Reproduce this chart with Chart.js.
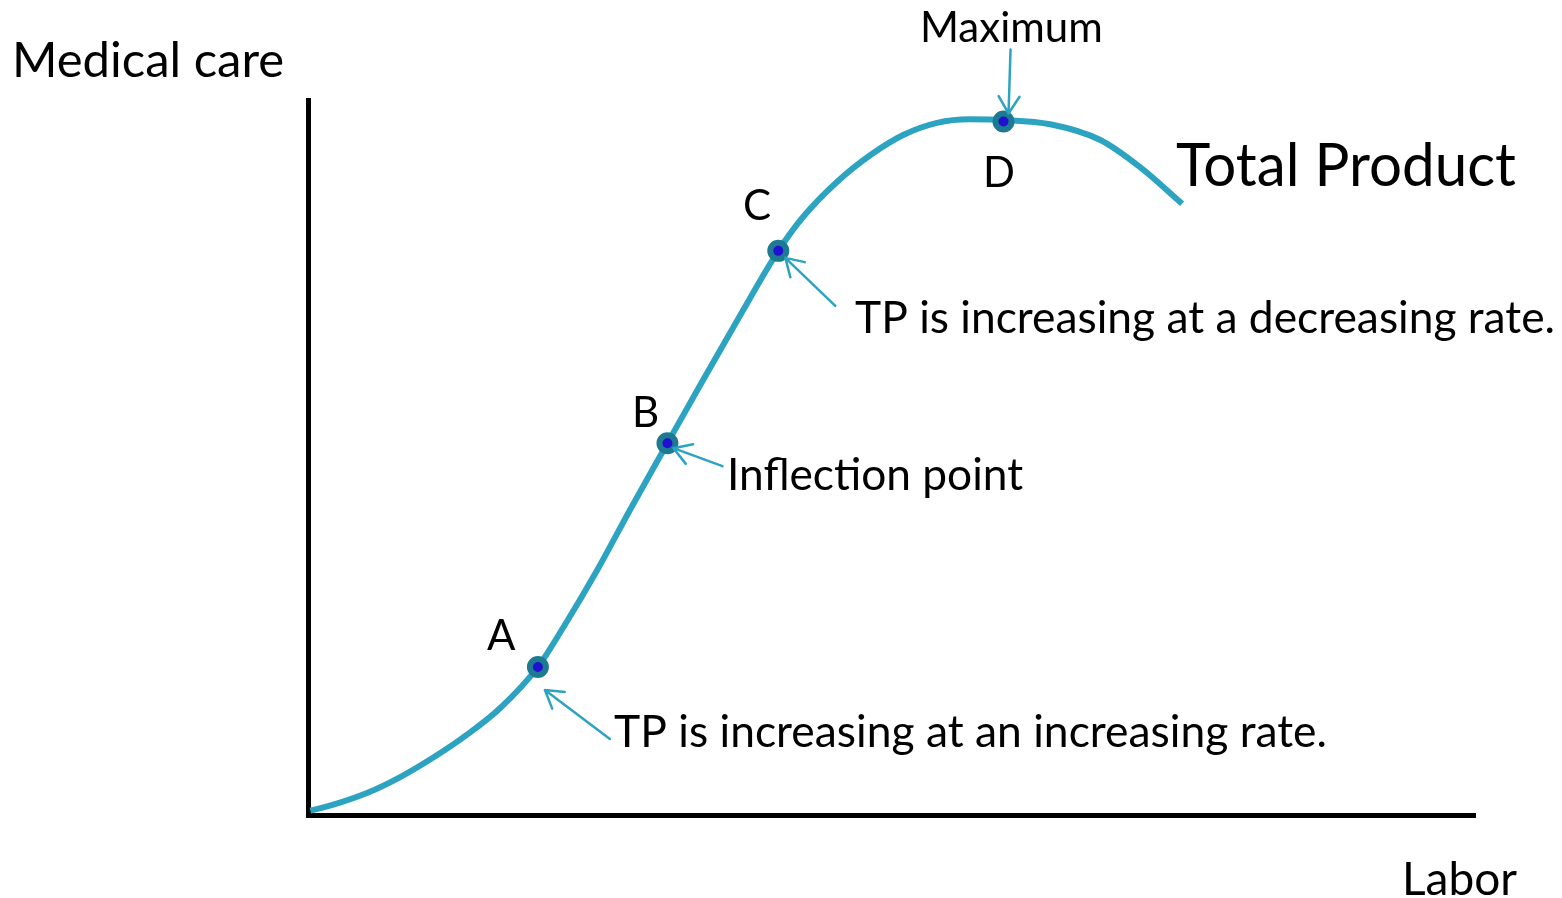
<!DOCTYPE html>
<html>
<head>
<meta charset="utf-8">
<script src="https://cdn.jsdelivr.net/npm/chart.js@4"></script>
<style>
  html, body { margin: 0; padding: 0; background: #fff; overflow: hidden; }
</style>
</head>
<body>
<canvas id="tp" width="1562" height="898"></canvas>
<script>
// total product curve (labor -> medical care), arbitrary units 0..100
const labor  = [0.2, 2.1, 5.1, 7.9, 10.7, 13.6, 16.5, 19.7, 21.9, 24.8, 27.6, 30.8, 33.6, 37.0, 40.3,
                42.4, 45.3, 48.2, 51.0, 53.9, 56.7, 59.6, 63.6, 67.9, 71.3, 74.9];
const output = [0.6, 1.4, 3.1, 5.3, 8.0, 11.2, 15.0, 20.7, 26.3, 34.3, 42.7, 52.0, 60.1, 69.8, 78.9,
                83.6, 88.5, 92.3, 95.1, 96.8, 97.3, 97.2, 96.6, 94.4, 90.6, 85.5];

// marked points
const pointNames  = ['A', 'B', 'C', 'D'];
const pointLabor  = [19.7, 30.8, 40.3, 59.6];
const pointOutput = [20.7, 52.0, 78.9, 97.0];

const xTitle = 'Labor';
const yTitle = 'Medical care';
const curveName = 'Total Product';
const notes = [
  'TP is increasing at an increasing rate.',
  'Inflection point',
  'TP is increasing at a decreasing rate.',
  'Maximum'
];

const FONT = 'Lato, "Open Sans", sans-serif';
const TEAL = '#2ca4c1';

// text & arrow layout (pixels)
const textBoxes = [
  { t: yTitle, x: 12, y: 77, size: 49, w: 275 },
  { t: xTitle, x: 1402, y: 895, size: 46, w: 116 },
  { t: curveName, x: 1176, y: 186, size: 60, w: 340 },
  { t: notes[0], x: 614, y: 747, size: 45, w: 713 },
  { t: notes[1], x: 727, y: 490, size: 45, w: 296 },
  { t: notes[2], x: 855, y: 333, size: 45, w: 700 },
  { t: notes[3], x: 920, y: 42, size: 42, w: 193 }
];
const letterPos = [[487, 650], [632, 427], [743, 220], [983, 187]];
// arrow tip offset from point, tail offset from tip
const arrows = [
  { tip: [7, 23], tail: [65, 49] },
  { tip: [6, 5], tail: [49, 18] },
  { tip: [7, 7], tail: [50, 48] },
  { tip: [5, -8], tail: [2, -64] }
];

const annotate = {
  id: 'annotate',
  afterDraw(chart) {
    const ctx = chart.ctx;
    const xs = chart.scales.x, ys = chart.scales.y;
    ctx.save();
    ctx.fillStyle = '#000';
    ctx.textBaseline = 'alphabetic';
    ctx.textAlign = 'left';
    textBoxes.forEach(b => {
      ctx.font = b.size + 'px ' + FONT;
      ctx.fillText(b.t, b.x, b.y, b.w);
    });
    ctx.font = '42px ' + FONT;
    pointNames.forEach((n, i) => ctx.fillText(n, letterPos[i][0], letterPos[i][1]));

    ctx.strokeStyle = TEAL;
    ctx.lineWidth = 2.5;
    ctx.lineCap = 'round';
    arrows.forEach((a, i) => {
      const px = xs.getPixelForValue(pointLabor[i]);
      const py = ys.getPixelForValue(pointOutput[i]);
      const tx = px + a.tip[0], ty = py + a.tip[1];
      const sx = tx + a.tail[0], sy = ty + a.tail[1];
      const ang = Math.atan2(sy - ty, sx - tx);
      ctx.beginPath();
      ctx.moveTo(sx, sy);
      ctx.lineTo(tx, ty);
      [-0.55, 0.55].forEach(d => {
        ctx.moveTo(tx, ty);
        ctx.lineTo(tx + 20 * Math.cos(ang + d), ty + 20 * Math.sin(ang + d));
      });
      ctx.stroke();
    });
    ctx.restore();
  }
};

new Chart(document.getElementById('tp'), {
  type: 'scatter',
  data: {
    datasets: [
      {
        label: 'points',
        data: pointLabor.map((x, i) => ({ x, y: pointOutput[i] })),
        showLine: false,
        pointRadius: 8,
        pointBorderWidth: 6,
        pointBackgroundColor: '#2010d0',
        pointBorderColor: '#1d7a92',
        order: 0
      },
      {
        label: curveName,
        data: labor.map((x, i) => ({ x, y: output[i] })),
        showLine: true,
        borderColor: TEAL,
        borderWidth: 6,
        pointRadius: 0,
        cubicInterpolationMode: 'monotone',
        fill: false,
        order: 1
      }
    ]
  },
  options: {
    responsive: false,
    animation: false,
    events: [],
    clip: false,
    layout: { padding: { left: 308, right: 87, top: 100, bottom: 83 } },
    plugins: { legend: { display: false }, tooltip: { enabled: false } },
    scales: {
      x: {
        type: 'linear', min: 0, max: 100,
        ticks: { display: false },
        grid: { display: false, drawTicks: false },
        border: { display: true, color: '#000', width: 5 }
      },
      y: {
        type: 'linear', min: 0, max: 100,
        ticks: { display: false },
        grid: { display: false, drawTicks: false },
        border: { display: true, color: '#000', width: 5 }
      }
    }
  },
  plugins: [annotate]
});
</script>
</body>
</html>
